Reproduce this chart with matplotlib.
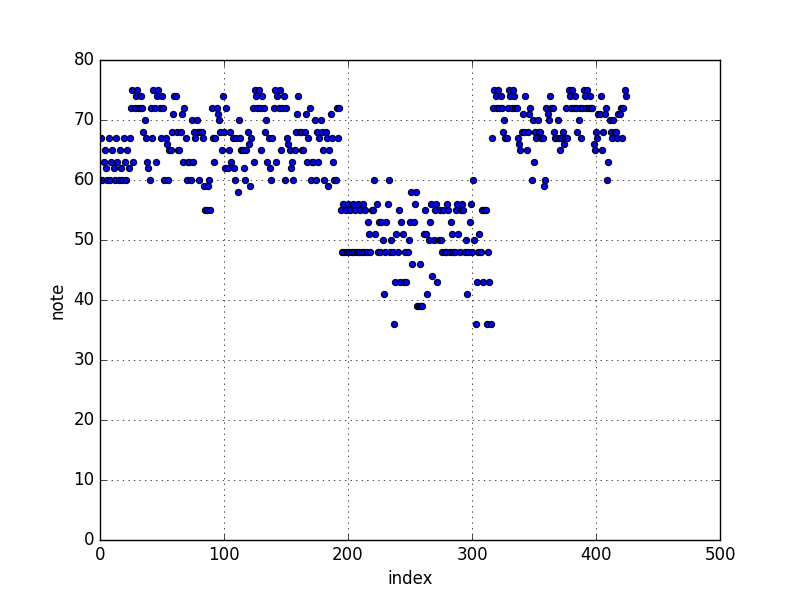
import matplotlib
matplotlib.use('Agg')
import matplotlib.pyplot as plt
import numpy as np

# notes, one per index
part1 = [60, 67, 60, 63, 65, 62, 60, 67, 60, 63, 65, 62, 60, 67, 63, 60, 65, 62, 60, 67,
         63, 60, 65, 62, 67, 72, 75, 63, 72, 74, 75, 72, 72, 74, 72, 68, 70, 67, 63, 62,
         60, 72, 67, 75, 72, 63, 74, 75, 72, 67, 74, 72, 60, 67, 66, 60, 65, 65, 68, 71,
         74, 74, 68, 65, 65, 68, 71, 63, 72, 67, 60, 63, 63, 60, 70, 63, 68, 67, 70, 68,
         60, 68, 68, 67, 59, 55, 55, 59, 60, 55, 72, 67, 63, 67, 72, 71, 70, 68, 65, 74,
         68, 62, 72, 62, 65, 68, 63, 67, 62, 60, 67, 58, 70, 67, 65, 65, 62, 60, 65, 68,
         66, 59, 67, 72, 63, 75, 74, 72, 75, 72, 65, 74, 72, 68, 70, 63, 67, 62, 60, 67,
         72, 75, 63, 74, 72, 75, 65, 72, 74, 60, 72, 67, 66, 65, 62, 63, 60, 65, 68, 71,
         74, 68, 68, 65, 65, 68, 71, 63, 67, 72, 60, 63, 63, 70, 60, 68, 63, 67, 70, 68,
         65, 60, 68, 67, 59, 65, 71, 67, 63, 60, 60, 72, 67, 72]
part2 = [55, 48, 56, 48, 55, 48, 56, 48, 55, 48, 56, 48, 55, 48, 56, 48, 55, 48, 56, 48,
         55, 48, 53, 51, 48, 55, 55, 60, 51, 56, 48, 53, 48, 53, 50, 41, 48, 53, 56, 60,
         48, 50, 48, 36, 43, 51, 48, 55, 43, 53, 51, 43, 48, 43, 48, 50, 53, 58, 46, 53,
         56, 58, 39, 39, 46, 39, 39, 51, 55, 51, 41, 50, 53, 56, 44, 50, 55, 56, 43, 50,
         55, 50, 48, 55, 48, 48, 56, 55, 48, 53, 51, 48, 48, 55, 56, 51, 48, 55, 56, 55,
         48, 50, 41, 48, 53, 56, 48, 60, 50, 36, 43, 48, 51, 48, 55, 43, 55, 55, 36, 48,
         43, 36]
part3 = [67, 72, 75, 74, 72, 75, 72, 74, 72, 68, 70, 67, 67, 72, 75, 74, 72, 75, 74, 72,
         72, 67, 66, 65, 68, 71, 68, 74, 65, 68, 71, 72, 60, 70, 63, 68, 67, 70, 68, 68,
         67, 67, 59, 60, 72, 71, 70, 74, 72, 72, 68, 67, 67, 70, 67, 65, 67, 68, 66, 67,
         72, 67, 75, 74, 72, 75, 72, 74, 72, 68, 70, 72, 67, 72, 75, 74, 72, 75, 72, 74,
         72, 72, 66, 65, 68, 67, 71, 71, 74, 65, 68, 71, 72, 60, 63, 70, 68, 67, 70, 68,
         68, 67, 71, 71, 72, 67, 72, 75, 74]

notes = np.array(part1 + part2 + part3)
index = np.arange(len(notes))

plt.style.use('classic')
fig, ax = plt.subplots(figsize=(8, 6), dpi=100)
fig.patch.set_facecolor('white')

ax.scatter(index, notes, s=20, c='b', edgecolors='k', linewidths=0.8)

ax.set_xlim(0, 500)
ax.set_ylim(0, 80)
ax.set_xlabel('index')
ax.set_ylabel('note')
ax.grid(True)

fig.savefig('out.png', dpi=100, facecolor='white')
